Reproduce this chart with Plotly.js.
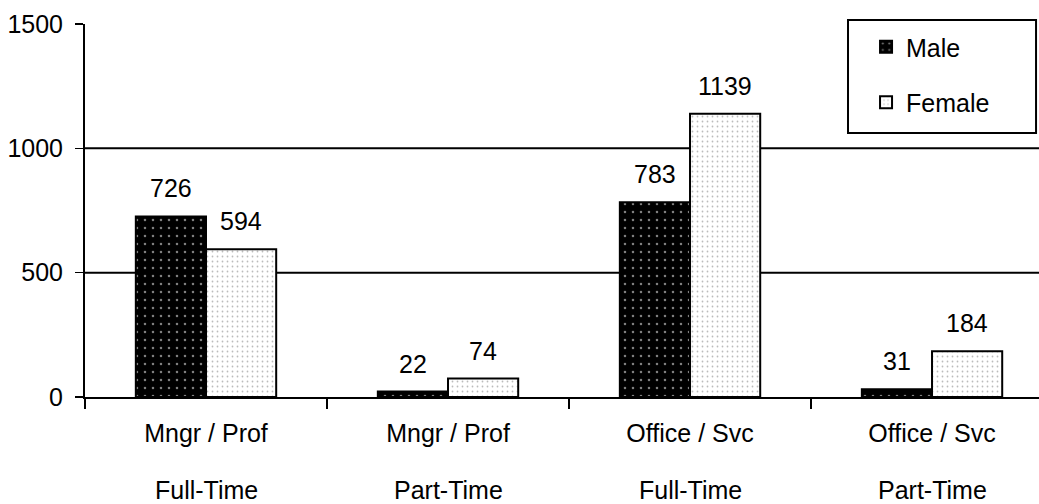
<!DOCTYPE html>
<html>
<head>
<meta charset="utf-8">
<script src="https://cdn.plot.ly/plotly-3.0.1.min.js"></script>
<style>html,body{margin:0;padding:0;background:#fff;}#chart{width:1039px;height:504px;}</style>
</head>
<body>
<div id="chart"></div>
<script>
var categories = ["Mngr / Prof|Full-Time", "Mngr / Prof|Part-Time", "Office / Svc|Full-Time", "Office / Svc|Part-Time"];
var labelLine1 = ["Mngr / Prof", "Mngr / Prof", "Office / Svc", "Office / Svc"];
var labelLine2 = ["Full-Time", "Part-Time", "Full-Time", "Part-Time"];
var maleValues = [726, 22, 783, 31];
var femaleValues = [594, 74, 1139, 184];
var yTicks = [0, 500, 1000, 1500];
var gridValues = [500, 1000];

var FONT = "Liberation Sans, Arial, sans-serif";
var FS = 25;

var male = {
  type: "bar", name: "Male", x: categories, y: maleValues,
  legendgroup: "m",
  marker: {color: "#000", line: {color: "#000", width: 2},
    pattern: {shape: ".", bgcolor: "#000", fgcolor: "#fff", size: 8, solidity: 0.08, fillmode: "overlay"}},
  hoverinfo: "y"
};
var female = {
  type: "bar", name: "Female", x: categories, y: femaleValues,
  legendgroup: "f",
  marker: {color: "#fff", line: {color: "#000", width: 2},
    pattern: {shape: ".", bgcolor: "#fff", fgcolor: "#777", size: 5, solidity: 0.1, fillmode: "overlay"}},
  hoverinfo: "y"
};

var annotations = [];
for (var i = 0; i < categories.length; i++) {
  annotations.push({x: i - 0.145, y: maleValues[i], xref: "x", yref: "y", text: String(maleValues[i]),
    showarrow: false, yshift: 28, font: {family: FONT, size: FS, color: "#000"}});
  annotations.push({x: i + 0.145, y: femaleValues[i], xref: "x", yref: "y", text: String(femaleValues[i]),
    showarrow: false, yshift: 28, font: {family: FONT, size: FS, color: "#000"}});
  annotations.push({x: i, y: 0, xref: "x", yref: "paper", text: labelLine2[i], showarrow: false,
    yanchor: "middle", yshift: -93, font: {family: FONT, size: FS, color: "#000"}});
}

var shapes = gridValues.map(function (g) {
  return {type: "line", xref: "paper", yref: "y", x0: 0, x1: 1, y0: g, y1: g, layer: "below",
    line: {color: "#000", width: 2}};
});
shapes.push({type: "rect", xref: "paper", yref: "paper", x0: 0.7998, x1: 0.9969, y0: 0.7078, y1: 1.0107,
  line: {color: "#000", width: 2}, fillcolor: "rgba(0,0,0,0)"});

var layout = {
  width: 1039, height: 504,
  margin: {l: 85, r: 0, t: 24, b: 107},
  paper_bgcolor: "#fff", plot_bgcolor: "#fff",
  font: {family: FONT, size: FS, color: "#000"},
  barmode: "group", bargap: 0.42, bargroupgap: 0,
  showlegend: true,
  legend: {x: 0.8187, y: 1.0, xanchor: "left", yanchor: "top", bgcolor: "rgba(0,0,0,0)",
    borderwidth: 0, tracegroupgap: 20, font: {family: FONT, size: FS, color: "#000"}},
  xaxis: {
    type: "category", range: [-0.5, 3.442],
    tickvals: categories, ticktext: labelLine1,
    showline: true, linecolor: "#000", linewidth: 2,
    ticks: "outside", tickson: "boundaries", ticklen: 10, tickwidth: 1.5, tickcolor: "#000",
    ticklabelstandoff: 13,
    showgrid: false, zeroline: false, fixedrange: true
  },
  yaxis: {
    range: [0, 1500], tickvals: yTicks,
    showline: true, linecolor: "#000", linewidth: 2,
    ticks: "outside", ticklen: 8, tickwidth: 1.5, tickcolor: "#000",
    ticklabelstandoff: 7,
    showgrid: false, zeroline: false, fixedrange: true
  },
  annotations: annotations,
  shapes: shapes
};

Plotly.newPlot("chart", [male, female], layout, {displayModeBar: false, staticPlot: true});
</script>
</body>
</html>
